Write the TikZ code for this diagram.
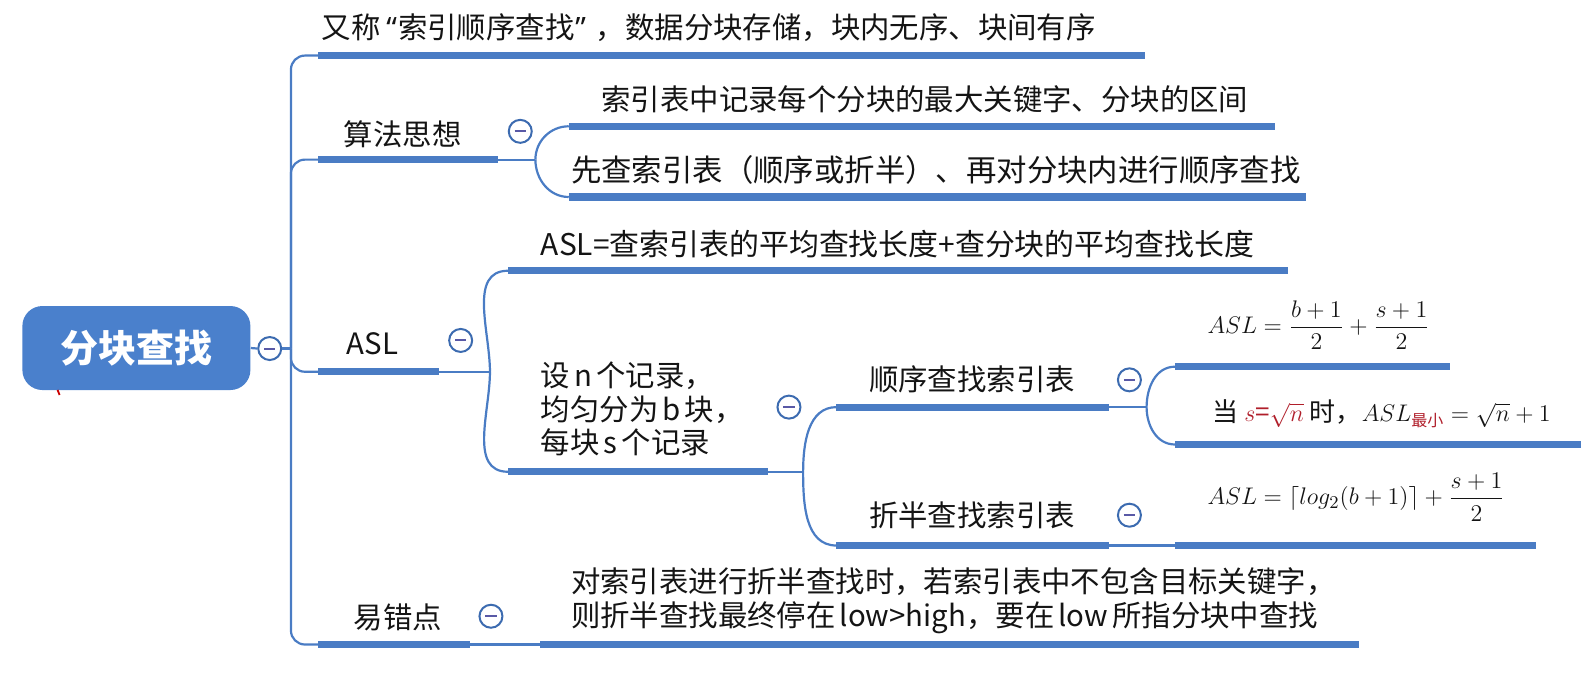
\documentclass[tikz,border=0pt]{standalone}
\usepackage{amsmath}
\usepackage{fontspec}
\setmainfont{Noto Sans CJK SC}
\newfontfamily\latinq{Noto Sans}
\definecolor{barblue}{HTML}{4A7CC4}
\definecolor{rootblue}{HTML}{4A80CC}
\definecolor{circblue}{HTML}{3C6BB0}
\definecolor{txtc}{HTML}{141414}
\definecolor{mred}{HTML}{B01E2A}
\newcommand{\nsp}{\hspace{0.14em}}
\begin{document}
\begin{tikzpicture}[x=0.5051pt,y=-0.5051pt,
  bar/.style={draw=barblue,line width=3.6pt},
  link/.style={draw=barblue,line width=1.1pt},
  lbl/.style={anchor=west,inner sep=0pt,text=txtc,align=left,font=\fontsize{14.7}{16.7}\selectfont},
  fml/.style={anchor=west,inner sep=0pt,text=txtc,font=\fontsize{13}{15}\selectfont},
  coll/.style={circle,draw=circblue,line width=1pt,fill=white,minimum size=11.5pt,inner sep=0pt,
    path picture={\draw[gray!70!blue,line width=1pt] ([xshift=-2.8pt]path picture bounding box.center) -- ([xshift=2.8pt]path picture bounding box.center);}},
]
\useasboundingbox (0,0) rectangle (1568,679);

% root
\node (root) [fill=rootblue,rounded corners=10pt,minimum width=114pt,minimum height=42pt,inner sep=0pt,
  text=white,font=\fontsize{19}{21}\selectfont\bfseries] at (135,344.5) {分块查找};
\draw[red!80!black,line width=0.9pt] (57,386) -- (59,391);
\node[coll] (c0) at (267,345) {};
\coordinate (trunk) at (288,345);
\draw[link] (root.east) -- (c0.west);
\draw[link] (c0.east) -- (trunk);

% bars coordinates
\coordinate (b1s) at (315,55);   \coordinate (b1e) at (1133,55);
\coordinate (b2s) at (315,158);  \coordinate (b2e) at (493,158);
\coordinate (b2as) at (563,125); \coordinate (b2ae) at (1262,125);
\coordinate (b2bs) at (563,195); \coordinate (b2be) at (1293,195);
\coordinate (b3s) at (315,368);  \coordinate (b3e) at (435,368);
\coordinate (b3as) at (503,268); \coordinate (b3ae) at (1275,268);
\coordinate (b3bs) at (503,467); \coordinate (b3be) at (760,467);
\coordinate (sqs) at (828,403);  \coordinate (sqe) at (1098,403);
\coordinate (zbs) at (828,540);  \coordinate (zbe) at (1098,540);
\coordinate (f1s) at (1163,363); \coordinate (f1e) at (1435,363);
\coordinate (f2s) at (1163,440); \coordinate (f2e) at (1565,440);
\coordinate (f3s) at (1163,540); \coordinate (f3e) at (1520,540);
\coordinate (b4s) at (315,638);  \coordinate (b4e) at (465,638);
\coordinate (b4as) at (535,638); \coordinate (b4ae) at (1345,638);
% fork points
\coordinate (k2) at (530,158);
\coordinate (k3) at (485,368);
\coordinate (k3b) at (795,467);
\coordinate (ksq) at (1135,403);

% trunk branches
\draw[link,rounded corners=7pt] (trunk) |- (b1s);
\draw[link,rounded corners=7pt] (trunk) |- (b2s);
\draw[link,rounded corners=7pt] (trunk) |- (b3s);
\draw[link,rounded corners=7pt] (trunk) |- (b4s);

% forks
\draw[link] (b2e) -- (k2);
\draw[link] (k2) to[out=90,in=180] (b2as);
\draw[link] (k2) to[out=-90,in=180] (b2bs);
\draw[link] (b3e) -- (k3);
\draw[link] (k3) to[out=90,in=180] (b3as);
\draw[link] (k3) to[out=-90,in=180] (b3bs);
\draw[link] (b3be) -- (k3b);
\draw[link] (k3b) to[out=90,in=180] (sqs);
\draw[link] (k3b) to[out=-90,in=180] (zbs);
\draw[link] (sqe) -- (ksq);
\draw[link] (ksq) to[out=90,in=180] (f1s);
\draw[link] (ksq) to[out=-90,in=180] (f2s);
\draw[link] (zbe) -- (f3s);
\draw[link] (b4e) -- (b4as);

% bars
\foreach \a/\b in {b1s/b1e,b2s/b2e,b2as/b2ae,b2bs/b2be,b3s/b3e,b3as/b3ae,b3bs/b3be,sqs/sqe,zbs/zbe,f1s/f1e,f2s/f2e,f3s/f3e,b4s/b4e,b4as/b4ae}
  \draw[bar] (\a) -- (\b);

% collapse circles
\node[coll] (c2) at (515,130) {};
\node[coll] (c3) at (456,337) {};
\node[coll] (c3b) at (781,403) {};
\node[coll] (csq) at (1118,376) {};
\node[coll] (czb) at (1118,510) {};
\node[coll] (c4) at (486,610) {};

% texts
\node[lbl] (t1) at (318,27) {又称\hspace{3pt}{\latinq “}\hspace{0.5pt}索引顺序查找\hspace{0.5pt}{\latinq ”}\hspace{5pt}，数据分块存储，块内无序、块间有序};
\node[lbl] (t2) at (340,133) {算法思想};
\node[lbl] (t2a) at (595,98) {索引表中记录每个分块的最大关键字、分块的区间};
\node[lbl,font=\fontsize{15.2}{16.7}\selectfont] (t2b) at (565,168) {先查索引表（顺序或折半）、再对分块内进行顺序查找};
\node[lbl] (t3) at (343,340) {ASL};
\node[lbl,font=\fontsize{14.95}{16.7}\selectfont] (t3a) at (535,242) {ASL=查索引表的平均查找长度+查分块的平均查找长度};
\node[lbl] (t3b) at (535,405) {设\nsp n\nsp 个记录，\\均匀分为\nsp b\nsp 块，\\每块\nsp s\nsp 个记录};
\node[lbl] (tsq) at (860,375) {顺序查找索引表};
\node[lbl] (tzb) at (860,510) {折半查找索引表};
\node[fml] (fm1) at (1195,322) {$ASL=\dfrac{b+1}{2}+\dfrac{s+1}{2}$};
\node[fml] (fm2) at (1200,410) {当 \textcolor{mred}{$s$=$\sqrt{n}$} 时，$ASL_{\mbox{\color{mred}\fontsize{8}{8}\selectfont 最小}}=\sqrt{n}+1$};
\node[fml] (fm3) at (1195,492) {$ASL=\lceil log_2(b+1)\rceil+\dfrac{s+1}{2}$};
\node[lbl] (t4) at (350,611) {易错点};
\node[lbl] (t4a) at (565,594.5) {对索引表进行折半查找时，若索引表中不包含目标关键字，\\则折半查找最终停在\nsp low>high，要在\nsp low\nsp 所指分块中查找};
\end{tikzpicture}
\end{document}
